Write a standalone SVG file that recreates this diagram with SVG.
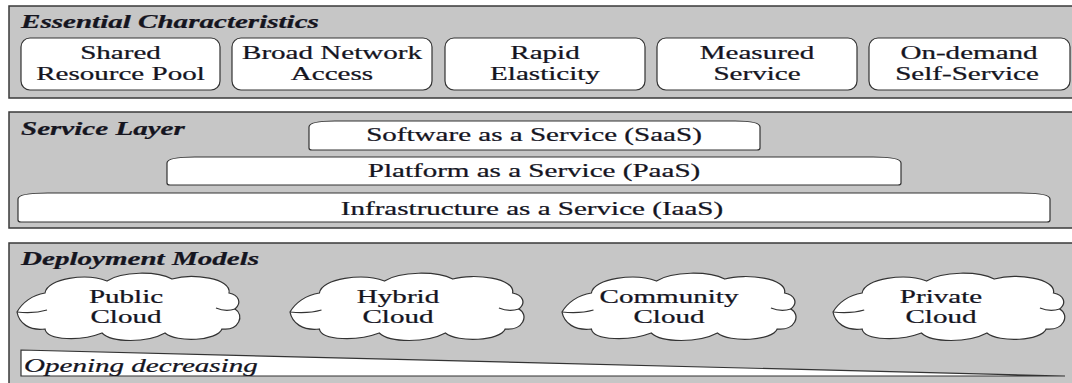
<svg xmlns="http://www.w3.org/2000/svg" width="1072" height="383" viewBox="0 0 1072 383">
<style>
.panel{fill:#c6c6c6;stroke:#3a3a3a;stroke-width:1.5}
.box{fill:#fff;stroke:#333;stroke-width:1.2}
text{font-family:'Liberation Serif','Times New Roman',serif;font-size:19px;fill:#15151f;stroke:#15151f;stroke-width:0.25}
.t{text-anchor:middle}
.h{font-weight:bold;font-style:italic}
.i{font-style:italic}
</style>
<defs>
<g id="cloud">
<path class="box" d="M0,39 C5,30 15,22 28,20 C30,5 70,0 90,8 C105,-2 140,-2 155,6 C175,0 215,5 212,20 C222,22 225,30 218,36 C228,42 222,58 205,56 C200,68 160,70 148,60 C130,70 95,70 85,60 C65,68 30,68 28,56 C12,58 2,50 0,39 Z"/>
<path d="M0,39 C10,40 20,40 30,37 M218,36 C212,38 206,38 199,35" fill="none" stroke="#333" stroke-width="1.2"/>
</g>
</defs>
<rect width="1072" height="383" fill="#fff"/>

<g id="essential">
<rect class="panel" x="9" y="6" width="1070" height="92"/>
<text class="h" transform="translate(21,28) scale(1.53,1)">Essential Characteristics</text>
</g>
<g id="shared">
<rect class="box" x="21" y="38" width="199" height="52" rx="9"/>
<text class="t" transform="translate(120.5,59) scale(1.53,1)">Shared</text>
<text class="t" transform="translate(120.5,80) scale(1.53,1)">Resource Pool</text>
</g>
<g id="broad">
<rect class="box" x="232" y="38" width="200" height="52" rx="9"/>
<text class="t" transform="translate(332,59) scale(1.53,1)">Broad Network</text>
<text class="t" transform="translate(332,80) scale(1.53,1)">Access</text>
</g>
<g id="rapid">
<rect class="box" x="445" y="38" width="200" height="52" rx="9"/>
<text class="t" transform="translate(545,59) scale(1.53,1)">Rapid</text>
<text class="t" transform="translate(545,80) scale(1.53,1)">Elasticity</text>
</g>
<g id="measured">
<rect class="box" x="657" y="38" width="200" height="52" rx="9"/>
<text class="t" transform="translate(757,59) scale(1.53,1)">Measured</text>
<text class="t" transform="translate(757,80) scale(1.53,1)">Service</text>
</g>
<g id="ondemand">
<rect class="box" x="869" y="38" width="201" height="52" rx="9"/>
<text class="t" transform="translate(969,59) scale(1.53,1)">On-demand</text>
<text class="t" transform="translate(967,80) scale(1.53,1)">Self-Service</text>
</g>

<g id="service">
<rect class="panel" x="9" y="112" width="1070" height="116"/>
<text class="h" transform="translate(21,135) scale(1.53,1)">Service Layer</text>
</g>
<g id="saas">
<path class="box" d="M309,127 Q309,121 335,121 L735,121 Q760,121 760,127 L760,148 Q760,150 757,150 L312,150 Q309,150 309,148 Z"/>
<text class="t" transform="translate(534,141) scale(1.53,1)">Software as a Service (SaaS)</text>
</g>
<g id="paas">
<path class="box" d="M167,163 Q167,157 195,157 L873,157 Q901,157 901,163 L901,183 Q901,185 898,185 L170,185 Q167,185 167,183 Z"/>
<text class="t" transform="translate(534,177) scale(1.53,1)">Platform as a Service (PaaS)</text>
</g>
<g id="iaas">
<path class="box" d="M18,199 Q18,193 48,193 L1020,193 Q1050,193 1050,199 L1050,220 Q1050,222 1047,222 L21,222 Q18,222 18,220 Z"/>
<text class="t" transform="translate(532,215) scale(1.53,1)">Infrastructure as a Service (IaaS)</text>
</g>

<g id="deployment">
<rect class="panel" x="9" y="243" width="1070" height="145"/>
<text class="h" transform="translate(21,265) scale(1.53,1)">Deployment Models</text>
</g>
<g id="public">
<use href="#cloud" transform="translate(17,273)"/>
<text class="t" transform="translate(126,303) scale(1.53,1)">Public</text>
<text class="t" transform="translate(126,323) scale(1.53,1)">Cloud</text>
</g>
<g id="hybrid">
<use href="#cloud" transform="translate(290,273) scale(1.05,1)"/>
<text class="t" transform="translate(398,303) scale(1.53,1)">Hybrid</text>
<text class="t" transform="translate(398,323) scale(1.53,1)">Cloud</text>
</g>
<g id="community">
<use href="#cloud" transform="translate(562,273) scale(1.05,1)"/>
<text class="t" transform="translate(669,303) scale(1.53,1)">Community</text>
<text class="t" transform="translate(669,323) scale(1.53,1)">Cloud</text>
</g>
<g id="private">
<use href="#cloud" transform="translate(833,273) scale(1.04,1)"/>
<text class="t" transform="translate(941,303) scale(1.53,1)">Private</text>
<text class="t" transform="translate(941,323) scale(1.53,1)">Cloud</text>
</g>
<g id="opening">
<polygon points="21,350 1065,376 21,376" fill="#fff" stroke="#333" stroke-width="1.2"/>
<text class="i" transform="translate(24,372) scale(1.53,1)">Opening decreasing</text>
</g>
<g id="connectors"/>
</svg>
